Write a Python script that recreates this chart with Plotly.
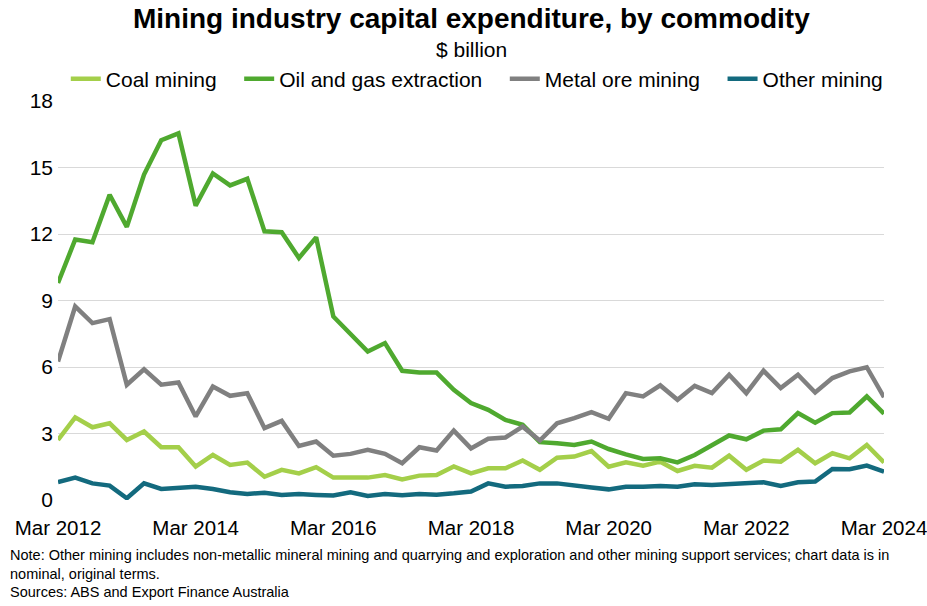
import plotly.graph_objects as go

months = ["Mar", "Jun", "Sep", "Dec"]
quarters = [f"{months[i % 4]} {2012 + i // 4}" for i in range(49)]

coal = [2.71, 3.73, 3.28, 3.46, 2.71, 3.09, 2.38, 2.38, 1.51, 2.03, 1.58, 1.69, 1.05, 1.36, 1.20, 1.48,
        1.01, 1.01, 1.01, 1.13, 0.93, 1.10, 1.13, 1.51, 1.20, 1.43, 1.43, 1.78, 1.36, 1.91, 1.96, 2.21,
        1.50, 1.70, 1.55, 1.73, 1.31, 1.54, 1.46, 2.00, 1.36, 1.78, 1.73, 2.26, 1.66, 2.11, 1.88, 2.48, 1.69]
oil = [9.79, 11.75, 11.63, 13.77, 12.32, 14.68, 16.23, 16.54, 13.28, 14.73, 14.19, 14.49, 12.12, 12.08, 10.92, 11.85,
       8.28, 7.48, 6.70, 7.08, 5.83, 5.75, 5.75, 4.97, 4.37, 4.07, 3.61, 3.39, 2.61, 2.56, 2.48, 2.64,
       2.30, 2.06, 1.85, 1.88, 1.70, 2.03, 2.48, 2.91, 2.74, 3.13, 3.19, 3.92, 3.49, 3.92, 3.95, 4.67, 3.89]
metal = [6.25, 8.73, 7.98, 8.16, 5.20, 5.90, 5.20, 5.30, 3.77, 5.12, 4.70, 4.82, 3.24, 3.57, 2.44, 2.64,
         2.00, 2.08, 2.26, 2.08, 1.66, 2.38, 2.23, 3.13, 2.33, 2.76, 2.82, 3.31, 2.68, 3.46, 3.69, 3.96,
         3.66, 4.82, 4.67, 5.17, 4.52, 5.15, 4.82, 5.65, 4.82, 5.83, 5.05, 5.65, 4.85, 5.50, 5.80, 5.99, 4.64]
other = [0.81, 1.01, 0.75, 0.65, 0.08, 0.75, 0.50, 0.53, 0.60, 0.50, 0.35, 0.27, 0.33, 0.23, 0.27, 0.23,
         0.20, 0.35, 0.18, 0.27, 0.21, 0.27, 0.24, 0.30, 0.38, 0.75, 0.60, 0.63, 0.75, 0.75, 0.63, 0.56,
         0.48, 0.60, 0.60, 0.63, 0.60, 0.71, 0.68, 0.71, 0.78, 0.80, 0.63, 0.80, 0.83, 1.40, 1.39, 1.55, 1.28]

series_names = ["Coal mining", "Oil and gas extraction", "Metal ore mining", "Other mining"]
series_values = [coal, oil, metal, other]
series_colors = ["#A4CF4A", "#4FA92F", "#808080", "#136A7E"]

tick_labels = quarters[::8]
y_ticks = [0, 3, 6, 9, 12, 15, 18]

fig = go.Figure()
for i, (name, vals, color) in enumerate(zip(series_names, series_values, series_colors)):
    pad = "\u00a0" * (3 if i < len(series_names) - 1 else 0)
    fig.add_trace(go.Scatter(x=quarters, y=vals, name=name + pad, mode="lines",
                             line=dict(color=color, width=4.5)))

font = "Liberation Sans, Arial, sans-serif"
fig.update_layout(
    width=927, height=606,
    paper_bgcolor="white", plot_bgcolor="white",
    margin=dict(l=58, r=43, t=101, b=106, autoexpand=False),
    font=dict(family=font, color="black"),
    showlegend=True,
    legend=dict(orientation="h", x=0.507, xanchor="center", y=1.055, yanchor="middle",
                font=dict(size=21), itemwidth=30, tracegroupgap=0,
                bgcolor="rgba(0,0,0,0)"),
    xaxis=dict(type="category", range=[0, 48], tickmode="array", tickvals=tick_labels,
               ticktext=tick_labels, tickfont=dict(size=20.5), showgrid=False, zeroline=False,
               showline=False, ticks="", ticklabelstandoff=13, automargin=False),
    yaxis=dict(range=[0, 18], tickvals=y_ticks, tickfont=dict(size=21),
               showgrid=True, gridcolor="#D9D9D9", gridwidth=1, zeroline=False,
               showline=False, ticks="", ticklabelstandoff=4, automargin=False),
    annotations=[
        dict(text="<b>Mining industry capital expenditure, by commodity</b>", xref="paper", yref="paper",
             x=0.5, y=1.0, xanchor="center", yanchor="middle", yshift=83, showarrow=False,
             font=dict(size=28)),
        dict(text="$ billion", xref="paper", yref="paper", x=0.5, y=1.0, xanchor="center",
             yanchor="middle", yshift=52, showarrow=False, font=dict(size=21)),
        dict(text="Note: Other mining includes non-metallic mineral mining and quarrying and exploration and other mining support services; chart data is in<br>nominal, original terms.",
             xref="paper", yref="paper", x=0, xshift=-50, y=0, yshift=-45, xanchor="left", yanchor="top",
             align="left", showarrow=False, font=dict(size=14.5)),
        dict(text="Sources: ABS and Export Finance Australia",
             xref="paper", yref="paper", x=0, xshift=-50, y=0, yshift=-82, xanchor="left", yanchor="top",
             align="left", showarrow=False, font=dict(size=14.5)),
    ],
)

fig.write_html("out.html", config={"displayModeBar": False},
               post_script="document.body.style.margin='0';document.body.style.padding='0';document.body.style.overflow='hidden';")
